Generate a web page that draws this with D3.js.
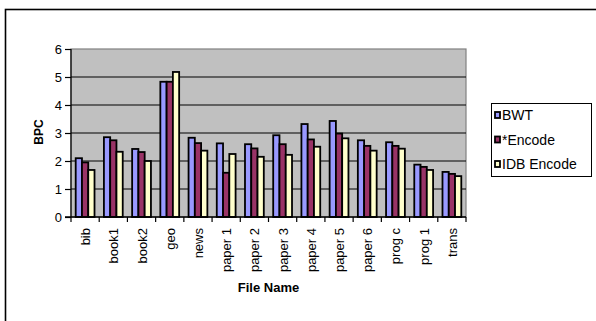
<!DOCTYPE html>
<html>
<head>
<meta charset="utf-8">
<script src="https://cdn.jsdelivr.net/npm/d3@7"></script>
<style>
  html, body { margin: 0; padding: 0; background: #fff; }
  svg { display: block; font-family: Arial, "Liberation Sans", sans-serif; }
</style>
</head>
<body>
<svg id="chart" width="596" height="321"></svg>
<script>
// Calgary corpus files and bits-per-character for each coder
const files = ["bib", "book1", "book2", "geo", "news", "paper 1", "paper 2", "paper 3",
               "paper 4", "paper 5", "paper 6", "prog c", "prog 1", "trans"];
const seriesNames = ["BWT", "*Encode", "IDB Encode"];
const bwt       = [2.10, 2.85, 2.43, 4.83, 2.83, 2.63, 2.60, 2.92, 3.32, 3.43, 2.74, 2.67, 1.87, 1.61];
const starEnc   = [1.95, 2.74, 2.32, 4.83, 2.64, 1.58, 2.45, 2.60, 2.77, 2.98, 2.54, 2.54, 1.79, 1.54];
const idbEnc    = [1.68, 2.33, 2.00, 5.18, 2.37, 2.25, 2.15, 2.22, 2.51, 2.81, 2.37, 2.44, 1.68, 1.46];
const yTicks    = [0, 1, 2, 3, 4, 5, 6];
const colors    = ["#9999FF", "#993366", "#FFFFCC"];

const seriesValues = [bwt, starEnc, idbEnc];
const svg = d3.select("#chart");

// chart frame
svg.append("rect")
  .attr("x", 5.5).attr("y", 9.5)
  .attr("width", 620).attr("height", 340)
  .attr("fill", "#fff").attr("stroke", "#000").attr("stroke-width", 1.6);

const plot = { left: 71, right: 466, top: 49, bottom: 217 };

const x = d3.scaleBand().domain(files).range([plot.left, plot.right]).padding(0);
const y = d3.scaleLinear().domain([0, 6]).range([plot.bottom, plot.top]);
const barW = x.bandwidth() / 4.5;
const xs = d3.scaleBand().domain(seriesNames)
  .range([barW * 0.75, barW * 3.75]).padding(0);

// plot area
svg.append("rect")
  .attr("x", plot.left).attr("y", plot.top)
  .attr("width", plot.right - plot.left).attr("height", plot.bottom - plot.top)
  .attr("fill", "#C0C0C0").attr("stroke", "#808080").attr("stroke-width", 1.2);

// gridlines
svg.append("g").selectAll("line")
  .data(yTicks.filter(t => t > 0 && t < 6))
  .join("line")
  .attr("x1", plot.left).attr("x2", plot.right)
  .attr("y1", d => y(d)).attr("y2", d => y(d))
  .attr("stroke", "#000").attr("stroke-width", 1);

// bars
const groups = svg.append("g").selectAll("g")
  .data(files)
  .join("g")
  .attr("transform", d => `translate(${x(d)},0)`);

groups.selectAll("rect")
  .data((f, i) => seriesNames.map((s, k) => ({ s, k, v: seriesValues[k][i] })))
  .join("rect")
  .attr("x", d => xs(d.s))
  .attr("y", d => y(d.v))
  .attr("width", xs.bandwidth())
  .attr("height", d => y(0) - y(d.v))
  .attr("fill", d => colors[d.k])
  .attr("stroke", "#000")
  .attr("stroke-width", 1.8);

// y axis
const yAxis = d3.axisLeft(y).tickValues(yTicks).tickFormat(d3.format("d")).tickSize(6).tickPadding(3);
const gy = svg.append("g").attr("transform", `translate(${plot.left},0)`).call(yAxis);
gy.select(".domain").attr("stroke", "#000").attr("stroke-width", 1.2).attr("d", `M0,${plot.top}V${plot.bottom}`);
gy.selectAll(".tick line").attr("stroke", "#000").attr("stroke-width", 1.2);
gy.selectAll(".tick text").attr("font-size", 13).attr("fill", "#000")
  .attr("font-family", "Arial, 'Liberation Sans', sans-serif");

// x axis baseline and group separators
svg.append("line")
  .attr("x1", plot.left - 6).attr("x2", plot.right)
  .attr("y1", plot.bottom).attr("y2", plot.bottom)
  .attr("stroke", "#000").attr("stroke-width", 1.6);
svg.append("g").selectAll("line")
  .data(files.concat(["__end"]))
  .join("line")
  .attr("x1", (d, i) => i < files.length ? x(d) : plot.right)
  .attr("x2", (d, i) => i < files.length ? x(d) : plot.right)
  .attr("y1", plot.bottom).attr("y2", plot.bottom + 5)
  .attr("stroke", "#000").attr("stroke-width", 1.2);

// x tick labels, rotated
svg.append("g").selectAll("text")
  .data(files)
  .join("text")
  .attr("transform", d => `translate(${x(d) + x.bandwidth() / 2 + 5},${plot.bottom + 11}) rotate(-90)`)
  .attr("text-anchor", "end")
  .attr("font-size", 13)
  .attr("fill", "#000")
  .text(d => d);

// axis titles
svg.append("text")
  .attr("transform", `translate(43,${(plot.top + plot.bottom) / 2 - 1}) rotate(-90)`)
  .attr("text-anchor", "middle")
  .attr("font-size", 12).attr("font-weight", "bold")
  .text("BPC");
svg.append("text")
  .attr("x", (plot.left + plot.right) / 2).attr("y", 292)
  .attr("text-anchor", "middle")
  .attr("font-size", 13).attr("font-weight", "bold")
  .text("File Name");

// legend
const legend = svg.append("g");
legend.append("rect")
  .attr("x", 491.5).attr("y", 103.5).attr("width", 100).attr("height", 73)
  .attr("fill", "#fff").attr("stroke", "#000").attr("stroke-width", 1);
const items = legend.selectAll("g.item")
  .data(seriesNames)
  .join("g")
  .attr("class", "item")
  .attr("transform", (d, i) => `translate(0,${115 + i * 24.5})`);
items.append("rect")
  .attr("x", 495).attr("y", -3).attr("width", 5).attr("height", 6)
  .attr("fill", (d, i) => colors[i]).attr("stroke", "#000").attr("stroke-width", 1.8);
items.append("text")
  .attr("x", 502).attr("y", 5)
  .attr("font-size", 14).attr("fill", "#000")
  .text(d => d);
</script>
</body>
</html>
